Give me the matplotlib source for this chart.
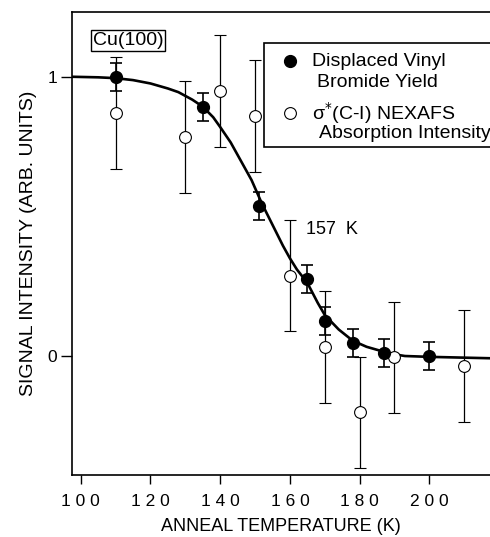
import matplotlib
matplotlib.use("Agg")
import matplotlib.pyplot as plt

plt.rcParams["font.family"] = ["Liberation Sans", "DejaVu Sans"]

# displaced vinyl bromide yield (filled)
yieldT = [110, 135, 151, 165, 170, 178, 187, 200]
yieldVal = [1.00, 0.893, 0.538, 0.275, 0.125, 0.045, 0.01, 0.0]
yieldErr = [0.05, 0.05, 0.05, 0.05, 0.05, 0.05, 0.05, 0.05]

# sigma*(C-I) NEXAFS absorption intensity (open)
nexT = [110, 130, 140, 150, 160, 170, 180, 190, 210]
nexVal = [0.869, 0.785, 0.95, 0.859, 0.288, 0.033, -0.202, -0.005, -0.036]
nexErr = [0.2, 0.2, 0.2, 0.2, 0.2, 0.2, 0.2, 0.2, 0.2]

# fitted curve
fitT = [97.5, 105, 110, 115, 120, 125, 128, 132, 135, 138, 140, 143, 145, 147, 149,
        152, 154, 156, 158, 160, 162, 165, 168, 170, 174, 178, 182, 187, 190, 193,
        200, 217.4]
fitVal = [1.0, 0.998, 0.995, 0.988, 0.976, 0.958, 0.945, 0.918, 0.893, 0.855, 0.82,
          0.765, 0.72, 0.675, 0.63, 0.545, 0.495, 0.445, 0.395, 0.35, 0.31, 0.262,
          0.19, 0.147, 0.095, 0.055, 0.033, 0.015, 0.006, 0.0, -0.003, -0.008]

fig = plt.figure(figsize=(4.9, 5.37), dpi=100)
ax = fig.add_axes([0.147, 0.1155, 0.853, 0.8622])

ax.plot(fitT, fitVal, color="black", lw=1.9, zorder=2)
ax.errorbar(nexT, nexVal, yerr=nexErr, fmt="o", ms=8.5, mfc="white", mec="black",
            mew=0.8, ecolor="black", elinewidth=0.9, capsize=4.5, capthick=0.9,
            zorder=3)
ax.errorbar(yieldT, yieldVal, yerr=yieldErr, fmt="o", ms=8.5, mfc="black", mec="black",
            ecolor="black", elinewidth=1.2, capsize=4.5, capthick=1.2, zorder=4)

ax.set_xlim(97.5, 217.4)
ax.set_ylim(-0.426, 1.232)
ax.set_xticks([100, 120, 140, 160, 180, 200])
ax.set_xticklabels(["1 0 0", "1 2 0", "1 4 0", "1 6 0", "1 8 0", "2 0 0"])
ax.set_yticks([0, 1])
ax.tick_params(axis="x", direction="out", length=6.5, width=1, labelsize=12.5, pad=7.5)
ax.tick_params(axis="y", direction="out", length=8, width=1, labelsize=12.5, pad=2.5)
ax.spines["right"].set_visible(False)
for s in ("left", "bottom", "top"):
    ax.spines[s].set_linewidth(1.2)

ax.set_xlabel("ANNEAL TEMPERATURE (K)", fontsize=13, labelpad=6)
ax.set_ylabel("SIGNAL INTENSITY (ARB. UNITS)", fontsize=14, labelpad=8)

ax.text(113.6, 1.131, "Cu(100)", fontsize=14, ha="center", va="center",
        bbox=dict(boxstyle="square,pad=0.1", fc="white", ec="black", lw=1))
ax.text(164.6, 0.453, "157  K", fontsize=13, ha="left", va="center")

# legend box (runs off the right edge like the original)
ax.add_patch(plt.Rectangle((152.6, 0.749), 80, 0.371, fill=True, fc="white",
                           ec="black", lw=1.2, zorder=5, clip_on=False))
ax.plot([160.1], [1.056], "o", ms=8.5, color="black", zorder=6)
ax.plot([160.1], [0.870], "o", ms=8.5, mfc="white", mec="black", mew=0.8, zorder=6)
ax.text(166.3, 1.056, "Displaced Vinyl", fontsize=14, va="center", zorder=6)
ax.text(167.7, 0.981, "Bromide Yield", fontsize=14, va="center", zorder=6)
ax.text(166.3, 0.870, "σ$^{*}$(C-I) NEXAFS", fontsize=14, va="center", zorder=6)
ax.text(168.4, 0.798, "Absorption Intensity", fontsize=14, va="center", zorder=6,
        clip_on=True)

fig.savefig("out.png", dpi=100)
